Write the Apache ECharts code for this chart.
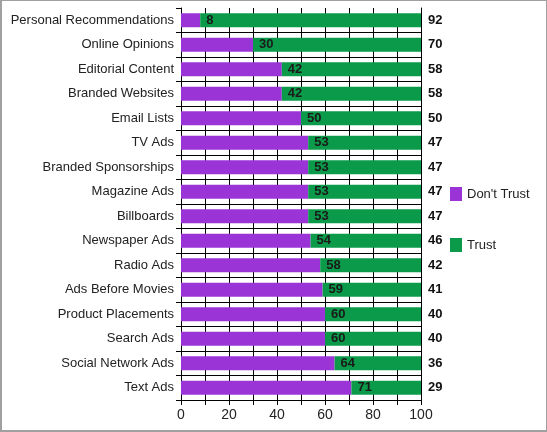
<!DOCTYPE html>
<html><head><meta charset="utf-8">
<script src="https://cdn.jsdelivr.net/npm/echarts@6/dist/echarts.min.js"></script>
<style>
html,body{margin:0;padding:0;background:#fff;}
#wrap{width:547px;height:432px;box-sizing:border-box;border:1px solid #a0a0a0;border-left-width:2px;border-bottom-width:2px;position:relative;}
#chart{position:absolute;left:-2px;top:-1px;width:547px;height:432px;}
</style></head>
<body><div id="wrap"><div id="chart"></div></div>
<script>
const categories = ["Personal Recommendations","Online Opinions","Editorial Content","Branded Websites","Email Lists","TV Ads","Branded Sponsorships","Magazine Ads","Billboards","Newspaper Ads","Radio Ads","Ads Before Movies","Product Placements","Search Ads","Social Network Ads","Text Ads"];
const dontTrust = [8,30,42,42,50,53,53,53,53,54,58,59,60,60,64,71];
const trust = [92,70,58,58,50,47,47,47,47,46,42,41,40,40,36,29];
const xTicks = [0,20,40,60,80,100];

const chart = echarts.init(document.getElementById('chart'));
const font = 'Liberation Sans, Arial, sans-serif';
chart.setOption({
  animation:false,
  textStyle:{fontFamily:font},
  legend:{
    orient:'vertical', left:445, top:182, itemGap:37,
    itemWidth:12, itemHeight:14, icon:'rect',
    textStyle:{fontSize:13,color:'#222',fontFamily:font},
    data:["Don't Trust","Trust"]
  },
  grid:{left:181,right:126,top:8,bottom:32,containLabel:false},
  xAxis:{
    type:'value',min:0,max:100,interval:10,
    axisLine:{show:true,lineStyle:{color:'#000',width:1}},
    axisTick:{show:true,length:5,lineStyle:{color:'#000'}},
    splitLine:{show:true,lineStyle:{color:'#000',width:1}},
    axisLabel:{fontSize:14,color:'#222',margin:8,fontFamily:font,
      formatter:v=>xTicks.indexOf(v)>=0?String(v):''}
  },
  yAxis:[{
    type:'category',inverse:true,data:categories,
    axisLine:{show:true,lineStyle:{color:'#000'}},
    axisTick:{show:true,length:5,lineStyle:{color:'#000'}},
    splitLine:{show:true,interval:(i)=>i!==0,lineStyle:{color:'#000',width:1}},
    axisLabel:{fontSize:13,color:'#222',margin:7,fontFamily:font}
  },{
    type:'category',inverse:true,position:'right',data:trust.map(String),
    axisLine:{show:true,lineStyle:{color:'#000'}},
    axisTick:{show:false},
    axisLabel:{fontSize:13,color:'#111',fontWeight:'bold',margin:7,fontFamily:font}
  }],
  series:[{
    name:"Don't Trust",type:'bar',stack:'a',data:dontTrust,barWidth:14,
    itemStyle:{color:'#9b34d6'}
  },{
    name:'Trust',type:'bar',stack:'a',data:trust,barWidth:14,
    itemStyle:{color:'#0b9a49'},
    label:{show:true,position:'insideLeft',distance:6,color:'#1a1a1a',fontWeight:'bold',fontSize:13,fontFamily:font,
      formatter:p=>String(dontTrust[p.dataIndex])}
  }]
});
</script></body></html>
